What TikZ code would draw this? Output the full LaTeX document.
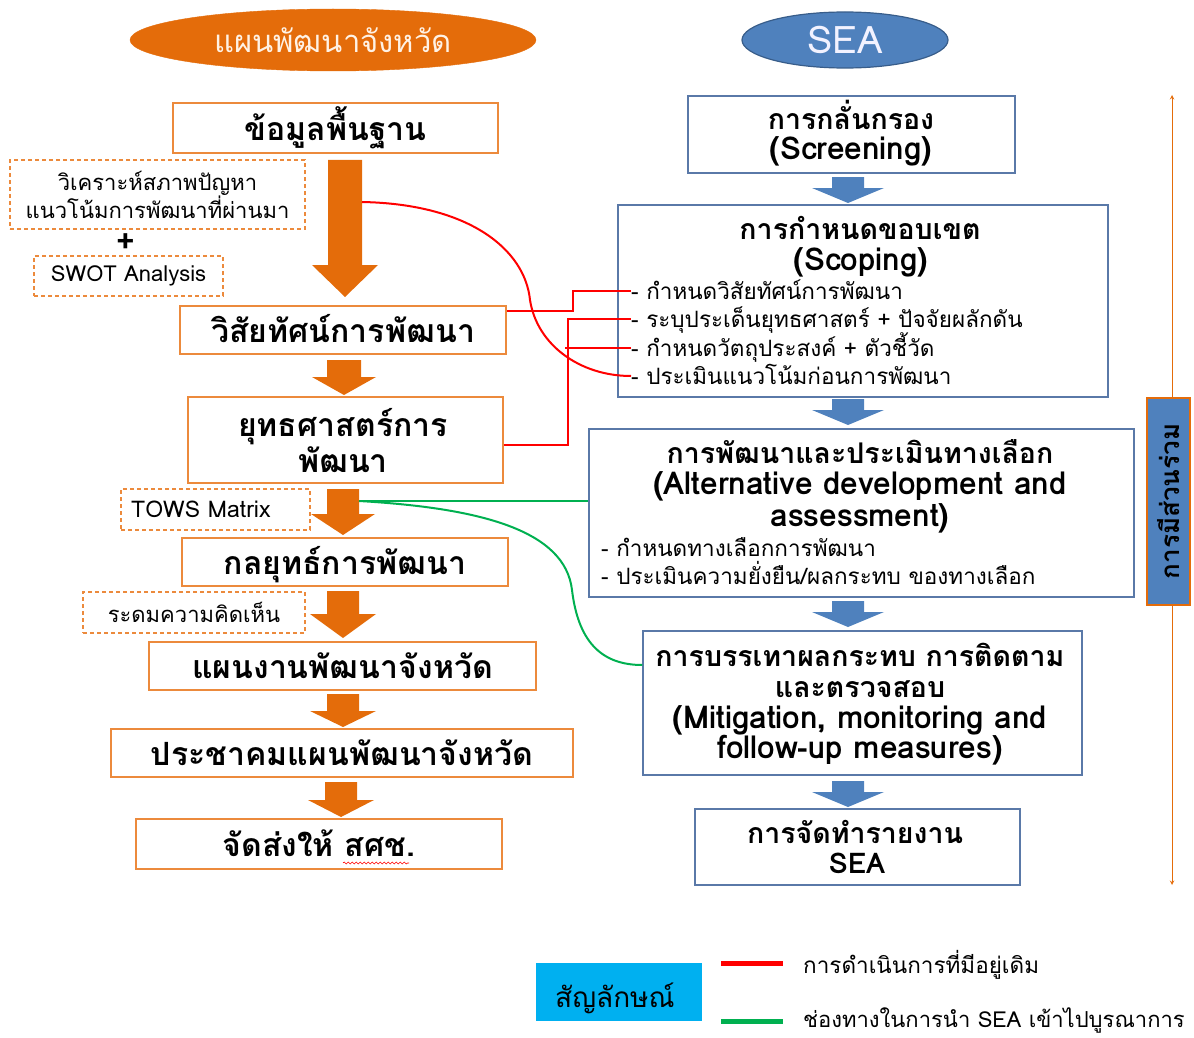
\documentclass[tikz,border=0pt]{standalone}
\usepackage{fontspec}
\setmainfont[Script=Thai]{Loma}
\usetikzlibrary{shapes.geometric,decorations.pathmorphing,calc}
\definecolor{orA}{HTML}{E46C0A}
\definecolor{orB}{HTML}{EC8A3C}
\definecolor{blA}{HTML}{4F81BD}
\definecolor{blB}{HTML}{5A79A8}
\definecolor{blD}{HTML}{385D8A}
\definecolor{redL}{HTML}{FF0000}
\definecolor{grL}{HTML}{00B050}
\definecolor{cyL}{HTML}{00B0F0}
\newcommand\blkarrow[7]{%
  \fill[#1] (#2-#6,#3) -- (#2+#6,#3) -- (#2+#6,#4) -- (#2+#7,#4) -- (#2,#5) -- (#2-#7,#4) -- (#2-#6,#4) -- cycle;}
\begin{document}
\begin{tikzpicture}[x=1pt,y=-1pt,
  sz/.style 2 args={minimum width=#1pt,minimum height=#2pt},
  obox/.style={draw=orB,line width=1.5pt,fill=white,inner sep=0pt,align=center,
     text height=27pt,text depth=2pt,
     font=\fontsize{32}{36}\selectfont\bfseries},
  dbox/.style={draw=orB,line width=1.2pt,dash pattern=on 4pt off 3pt,inner sep=0pt,align=center,
     font=\fontsize{22}{28}\selectfont},
  bbox/.style={draw=blB,line width=1.5pt,fill=white,inner sep=0pt},
  lnT/.style={inner sep=0pt,text height=28pt,text depth=6pt,font=\fontsize{28.5}{30}\selectfont\bfseries},
  lnL/.style={inner sep=0pt,text height=26pt,text depth=6pt,font=\fontsize{31.5}{32}\selectfont\bfseries},
  bullet/.style={anchor=west,inner sep=0pt,text height=21pt,text depth=5pt,font=\fontsize{22.5}{24}\selectfont},
  redl/.style={draw=redL,line width=2pt},
  grnl/.style={draw=grL,line width=2pt}]
\useasboundingbox (0,0) rectangle (1194,1038);

% ---------- left column ----------
\node[ellipse,fill=orA,draw=orA,sz={406}{62},inner sep=0pt,text=white!90!orange,
  font=\fontsize{31}{36}\selectfont] (ttl1) at (333,40) {แผนพัฒนาจังหวัด};

\node[obox,sz={325}{50}] (basic) at (335.5,128) {ข้อมูลพื้นฐาน};
\node[dbox,sz={295}{69}] (anal) at (157.5,194.5) {วิเคราะห์สภาพปัญหา\\แนวโน้มการพัฒนาที่ผ่านมา};
\node[inner sep=0pt,font=\fontsize{32}{32}\selectfont\bfseries] (plus) at (126,243) {+};
\node[dbox,sz={189}{40}] (swot) at (128.5,276) {SWOT Analysis};
\node[obox,sz={326}{48}] (vis) at (343,330) {วิสัยทัศน์การพัฒนา};
\node[obox,sz={315}{86}] (strat) at (345.5,440) {};
\node[obox,draw=none,fill=none] (strat1) at (343,424) {ยุทธศาสตร์การ};
\node[obox,draw=none,fill=none] (strat2) at (343,460) {พัฒนา};
\node[dbox,sz={189}{41}] (tows) at (215.5,509.5) {};
\node[anchor=west,inner sep=0pt,font=\fontsize{23}{28}\selectfont] (towst) at (131,509.5) {TOWS Matrix};
\node[obox,sz={326}{48}] (tact) at (345,562) {กลยุทธ์การพัฒนา};
\node[dbox,sz={222}{41}] (brain) at (194,612.5) {ระดมความคิดเห็น};
\node[obox,sz={387}{48}] (work) at (342.5,666) {แผนงานพัฒนาจังหวัด};
\node[obox,sz={462}{48}] (forum) at (342,753) {ประชาคมแผนพัฒนาจังหวัด};
\node[obox,sz={366}{50}] (send) at (319,844) {จัดส่งให้ สศช.};
\draw[redL,line width=0.6pt,decorate,decoration={snake,amplitude=1pt,segment length=4pt}]
  (343,863) -- (409,863);

\blkarrow{orA}{345}{160}{265}{297}{17}{33}
\blkarrow{orA}{344}{360}{377}{395}{17}{32}
\blkarrow{orA}{343}{489}{514}{535}{16}{32}
\blkarrow{orA}{343}{591}{614}{638}{16}{33}
\blkarrow{orA}{343}{694}{711}{727}{16}{33}
\blkarrow{orA}{341}{782}{800}{817}{16}{33}

% ---------- right column ----------
\node[ellipse,fill=blA,draw=blD,line width=1.2pt,sz={206}{56},inner sep=0pt,text=white!95!blue,
  font=\fontsize{38}{40}\selectfont] (ttl2) at (845,40) {SEA};

\node[bbox,sz={327}{77}] (scr) at (851.5,134.5) {};
\node[lnT] at (851,119) {การกลั่นกรอง};
\node[lnL] at (851,150) {(Screening)};

\node[bbox,sz={490}{192}] (scop) at (863,301) {};
\node[lnT] at (860,228) {การกำหนดขอบเขต};
\node[lnL] at (861,260) {(Scoping)};
\node[bullet] (b1) at (631,291) {- กำหนดวิสัยทัศน์การพัฒนา};
\node[bullet] (b2) at (631,319) {- ระบุประเด็นยุทธศาสตร์ + ปัจจัยผลักดัน};
\node[bullet] (b3) at (631,348) {- กำหนดวัตถุประสงค์ + ตัวชี้วัด};
\node[bullet] (b4) at (631,376) {- ประเมินแนวโน้มก่อนการพัฒนา};

\node[bbox,sz={545}{168}] (alt) at (861.5,513) {};
\node[lnT] at (860,452) {การพัฒนาและประเมินทางเลือก};
\node[lnL] at (860,484) {(Alternative development and};
\node[lnL] at (860,516) {assessment)};
\node[bullet] (c1) at (601,548) {- กำหนดทางเลือกการพัฒนา};
\node[bullet] (c2) at (601,576) {- ประเมินความยั่งยืน/ผลกระทบ ของทางเลือก};

\node[bbox,sz={439}{144}] (mit) at (862.5,703) {};
\node[lnT] at (860,655) {การบรรเทาผลกระทบ การติดตาม};
\node[lnT] at (860,686) {และตรวจสอบ};
\node[lnL] at (860,718) {(Mitigation, monitoring and};
\node[lnL] at (860,748) {follow-up measures)};

\node[bbox,sz={325}{76}] (rep) at (857.5,847) {};
\node[lnT] at (855,832) {การจัดทำรายงาน};
\node[lnT] at (857,862) {SEA};

\blkarrow{blA}{848}{177}{188}{203}{16}{36}
\blkarrow{blA}{848}{399}{410}{425}{16}{36}
\blkarrow{blA}{848}{601}{612}{627}{16}{36}
\blkarrow{blA}{848}{781}{792}{807}{16}{36}

% participation
\coordinate (ptop) at (1172,95);
\coordinate (pbot) at (1172,885);
\draw[orA,line width=1pt,<->,>=stealth] (ptop) -- (pbot);
\node[fill=blA,draw=orA,line width=1.5pt,sz={207}{43},inner sep=0pt,rotate=90,
  font=\fontsize{26}{28}\selectfont\bfseries] (part) at (1168.5,501.5) {การมีส่วนร่วม};

% ---------- connectors ----------
\coordinate (a1r) at (362,202);
\coordinate (a3r) at (359,501);
\draw[redl] (a1r) .. controls (470,204) and (525,250) .. (530,300)
   .. controls (537,345) and (580,376) .. (b4.west);
\draw[redl] ([yshift=-6pt]vis.north east) -- ++(66,0) |- (b1.west);
\draw[redl] ([yshift=-5pt]strat.east) -- ++(64,0) |- (b2.west);
\draw[redl] (b3.west) -- ++(-66,0);
\draw[grnl] (a3r) -- (a3r -| alt.west);
\draw[grnl] (a3r) .. controls (480,508) and (565,530) .. (572,590)
   .. controls (578,640) and (600,665) .. ([yshift=38pt]mit.west);

% ---------- legend ----------
\node[fill=cyL,sz={166}{58},inner sep=0pt] (leg) at (619,992) {};
\node[anchor=west,inner sep=0pt,font=\fontsize{28}{30}\selectfont] (legt) at (555,998) {สัญลักษณ์};
\coordinate (r1) at (721,963); \coordinate (r2) at (783,963);
\coordinate (g1) at (721,1021); \coordinate (g2) at (783,1021);
\draw[redL,line width=5pt] (r1) -- (r2);
\draw[grL,line width=5pt] (g1) -- (g2);
\node[anchor=west,inner sep=0pt,font=\fontsize{22.5}{28}\selectfont] (l1) at (803,965) {การดำเนินการที่มีอยู่เดิม};
\node[anchor=west,inner sep=0pt,font=\fontsize{22}{28}\selectfont] (l2) at (803,1020) {ช่องทางในการนำ SEA เข้าไปบูรณาการ};
\end{tikzpicture}
\end{document}
